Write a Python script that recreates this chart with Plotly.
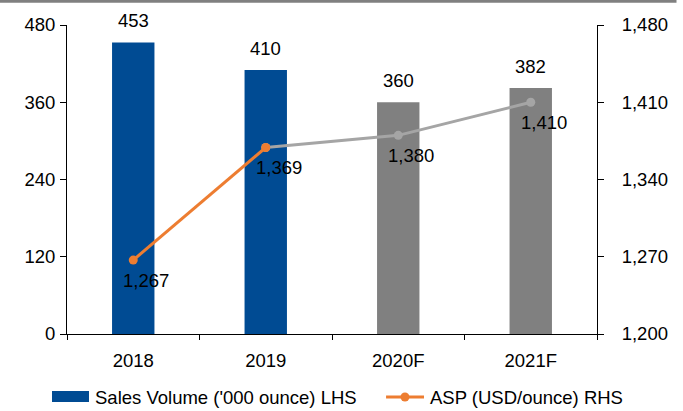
import plotly.graph_objects as go

years = ["2018", "2019", "2020F", "2021F"]
volume = [453, 410, 360, 382]
asp = [1267, 1369, 1380, 1410]
bar_colors = ["#004B93", "#004B93", "#808080", "#808080"]
legend_names = ["Sales Volume ('000 ounce) LHS", "ASP (USD/ounce) RHS"]

FONT = "Liberation Sans, Arial, sans-serif"
fs = 18.5

fig = go.Figure()
fig.add_trace(go.Bar(
    x=years, y=volume, name=legend_names[0],
    marker=dict(color=bar_colors, line=dict(width=0)),
    width=0.32, yaxis="y",
))
fig.add_trace(go.Scatter(
    x=years[1:], y=asp[1:], mode="lines+markers",
    line=dict(color="#A5A5A5", width=3), marker=dict(size=9, color="#A5A5A5"),
    yaxis="y2",
))
fig.add_trace(go.Scatter(
    x=years[:2], y=asp[:2], mode="lines+markers", name=legend_names[1],
    line=dict(color="#ED7D31", width=3), marker=dict(size=9, color="#ED7D31"),
    yaxis="y2",
))
for i, v in enumerate(volume):
    fig.add_annotation(x=i, y=v, xref="x", yref="y", text=str(v), showarrow=False,
                       yanchor="bottom", yshift=9,
                       font=dict(size=fs, color="#000000", family=FONT))
for i, v in enumerate(asp):
    fig.add_annotation(x=i, y=v, xref="x", yref="y2", text=f"{v:,}", showarrow=False,
                       xshift=13, yshift=-20,
                       font=dict(size=fs, color="#000000", family=FONT))

# top rule
fig.add_shape(type="line", xref="paper", yref="paper", x0=-0.13, x1=1.15,
              y0=1.077, y1=1.077, line=dict(color="#808080", width=3))

# manual legend
fig.add_shape(type="rect", xref="paper", yref="paper", x0=-0.0283, x1=0.0415,
              y0=-0.2201, y1=-0.1845, fillcolor="#004B93", line=dict(width=0))
fig.add_annotation(xref="paper", yref="paper", x=0.049, y=-0.2039, xanchor="left",
                   yanchor="middle", text=legend_names[0], showarrow=False,
                   font=dict(size=fs, color="#000000", family=FONT))
fig.add_shape(type="line", xref="paper", yref="paper", x0=0.602, x1=0.6736,
              y0=-0.2039, y1=-0.2039, line=dict(color="#ED7D31", width=3))
fig.add_shape(type="circle", xref="paper", yref="paper", x0=0.6292, x1=0.6462,
              y0=-0.2184, y1=-0.1893, fillcolor="#ED7D31", line=dict(width=0))
fig.add_annotation(xref="paper", yref="paper", x=0.681, y=-0.2039, xanchor="left",
                   yanchor="middle", text=legend_names[1], showarrow=False,
                   font=dict(size=fs, color="#000000", family=FONT))

fig.update_layout(
    width=683, height=411,
    margin=dict(l=67, r=86, t=25, b=77, autoexpand=False),
    paper_bgcolor="white", plot_bgcolor="white",
    font=dict(family=FONT, size=fs, color="#000000"),
    showlegend=False,
    xaxis=dict(type="category", categoryarray=years, categoryorder="array",
               range=[-0.5, 3.5], showline=True, linecolor="#000000", linewidth=1,
               ticks="outside", tickson="boundaries", ticklen=5, tickcolor="#000000",
               showgrid=False, tickfont=dict(size=fs), tickangle=0,
               ticklabelstandoff=10),
    yaxis=dict(range=[0, 480], dtick=120, tick0=0, showline=True, linecolor="#000000",
               ticks="outside", ticklen=6, tickcolor="#000000", showgrid=False,
               zeroline=False, tickfont=dict(size=fs), ticklabelstandoff=1),
    yaxis2=dict(range=[1200, 1480], dtick=70, tick0=1200, overlaying="y", side="right",
                showline=True, linecolor="#000000", ticks="outside", ticklen=6,
                tickcolor="#000000", showgrid=False, zeroline=False, tickformat=",",
                tickfont=dict(size=fs), ticklabelstandoff=14),
)

fig.write_html("out.html")
